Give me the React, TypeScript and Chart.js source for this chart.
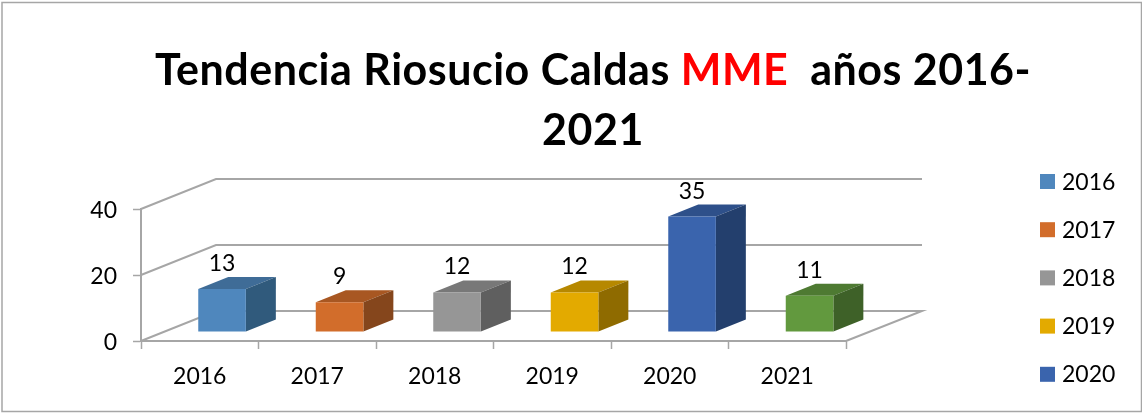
import React, { useEffect, useRef } from "react";
import { Chart, registerables } from "chart.js";

Chart.register(...registerables);

const categories = ["2016", "2017", "2018", "2019", "2020", "2021"];
const values = [13, 9, 12, 12, 35, 11];
const legendLabels = ["2016", "2017", "2018", "2019", "2020"];
const frontColors = ["#4f87bd", "#d26d2b", "#969696", "#e3aa00", "#3a64ad", "#62993e"];
const topColors = ["#3f6c97", "#a85722", "#787878", "#b68800", "#2e508a", "#4e7a32"];
const sideColors = ["#305a7c", "#85461c", "#5f5f5f", "#8f6b00", "#233f6d", "#3e6128"];
const titleLines = [
  [
    { text: "Tendencia Riosucio Caldas ", color: "#000000" },
    { text: "MME", color: "#ff0000" },
    { text: "  años 2016-", color: "#000000" },
  ],
  [{ text: "2021", color: "#000000" }],
];

const FONT = "Lato, Carlito, Calibri, sans-serif";
const AXIS = "#a6a6a6";
const W = 1142;
const H = 413;
const WALL_DX = 75;
const WALL_DY = -30;
const WALL_RIGHT = 922;
const BAR_DX = 22.3;
const BAR_DY = -9;
const SIDE_DX = 30;
const SIDE_DY = -12;

const frame3d = {
  id: "frame3d",
  beforeDatasetsDraw(chart: any) {
    const { ctx, chartArea: a, scales } = chart;
    ctx.save();
    ctx.strokeStyle = AXIS;
    ctx.lineWidth = 2;
    ctx.lineJoin = "miter";
    for (const t of scales.y.ticks) {
      const y = scales.y.getPixelForValue(t.value);
      ctx.beginPath();
      ctx.moveTo(a.left, y);
      ctx.lineTo(a.left + WALL_DX, y + WALL_DY);
      ctx.lineTo(WALL_RIGHT, y + WALL_DY);
      if (t.value === 0) ctx.lineTo(a.right, y);
      ctx.stroke();
    }
    ctx.restore();

    const bars = chart.getDatasetMeta(0).data;
    ctx.save();
    ctx.translate(BAR_DX, BAR_DY);
    bars.forEach((b: any, i: number) => {
      const l = b.x - b.width / 2;
      const r = b.x + b.width / 2;
      ctx.fillStyle = topColors[i];
      ctx.beginPath();
      ctx.moveTo(l, b.y);
      ctx.lineTo(l + SIDE_DX, b.y + SIDE_DY);
      ctx.lineTo(r + SIDE_DX, b.y + SIDE_DY);
      ctx.lineTo(r, b.y);
      ctx.closePath();
      ctx.fill();
      ctx.fillStyle = sideColors[i];
      ctx.beginPath();
      ctx.moveTo(r, b.y);
      ctx.lineTo(r + SIDE_DX, b.y + SIDE_DY);
      ctx.lineTo(r + SIDE_DX, b.base + SIDE_DY);
      ctx.lineTo(r, b.base);
      ctx.closePath();
      ctx.fill();
    });
  },
  afterDatasetsDraw(chart: any) {
    const { ctx } = chart;
    ctx.restore();
    const bars = chart.getDatasetMeta(0).data;
    ctx.save();
    ctx.fillStyle = "#000000";
    ctx.font = `23px ${FONT}`;
    ctx.textAlign = "center";
    ctx.textBaseline = "alphabetic";
    bars.forEach((b: any, i: number) => {
      ctx.fillText(String(values[i]), b.x + BAR_DX, b.y + BAR_DY - 18);
    });
    ctx.restore();
  },
  afterDraw(chart: any) {
    const { ctx } = chart;
    ctx.save();
    // outer frame
    ctx.strokeStyle = AXIS;
    ctx.lineWidth = 1.5;
    ctx.strokeRect(2, 2.5, 1139.5, 409);
    // title
    ctx.font = `bold 43px ${FONT}`;
    ctx.letterSpacing = "0.5px";
    ctx.textBaseline = "alphabetic";
    ctx.textAlign = "left";
    titleLines.forEach((segs, li) => {
      const total = segs.reduce((s, g) => s + ctx.measureText(g.text).width, 0);
      let x = 593 - total / 2;
      const y = 85 + li * 60;
      segs.forEach((g) => {
        ctx.fillStyle = g.color;
        ctx.fillText(g.text, x, y);
        x += ctx.measureText(g.text).width;
      });
    });
    ctx.letterSpacing = "0px";
    // legend
    ctx.font = `23px ${FONT}`;
    legendLabels.forEach((lab, i) => {
      const top = 174 + i * 48.2;
      ctx.fillStyle = frontColors[i];
      ctx.fillRect(1040, top, 15, 15);
      ctx.fillStyle = "#000000";
      ctx.fillText(lab, 1062, top + 15.5);
    });
    ctx.restore();
  },
};

export default function App() {
  const ref = useRef<HTMLCanvasElement>(null);
  useEffect(() => {
    const chart = new Chart(ref.current as HTMLCanvasElement, {
      type: "bar",
      data: {
        labels: categories,
        datasets: [
          {
            data: values,
            backgroundColor: frontColors,
            borderWidth: 0,
            barPercentage: 0.405,
            categoryPercentage: 1,
          },
        ],
      },
      options: {
        animation: false,
        responsive: false,
        layout: { padding: { left: 0, top: 209, right: W - 846, bottom: 0 } },
        plugins: {
          legend: { display: false },
          title: { display: false },
          tooltip: { enabled: false },
        },
        scales: {
          x: {
            afterFit: (s: any) => {
              s.height = H - 341;
            },
            grid: {
              drawOnChartArea: false,
              drawTicks: true,
              tickLength: 8,
              tickColor: AXIS,
              tickWidth: 1.5,
            },
            border: { display: true, color: AXIS, width: 2 },
            ticks: {
              color: "#000000",
              padding: 14,
              maxRotation: 0,
              font: { family: FONT, size: 23 },
            },
          },
          y: {
            min: 0,
            max: 40,
            afterFit: (s: any) => {
              s.width = 141;
            },
            grid: {
              drawOnChartArea: false,
              drawTicks: true,
              tickLength: 8,
              tickColor: AXIS,
              tickWidth: 1.5,
            },
            border: { display: true, color: AXIS, width: 2 },
            ticks: {
              stepSize: 20,
              color: "#000000",
              padding: 16,
              labelOffset: 1.5,
              font: { family: FONT, size: 23 },
            },
          },
        },
      },
      plugins: [frame3d],
    } as any);
    return () => chart.destroy();
  }, []);
  return (
    <canvas
      ref={ref}
      width={W}
      height={H}
      style={{ position: "absolute", left: 0, top: 0, display: "block" }}
    />
  );
}
